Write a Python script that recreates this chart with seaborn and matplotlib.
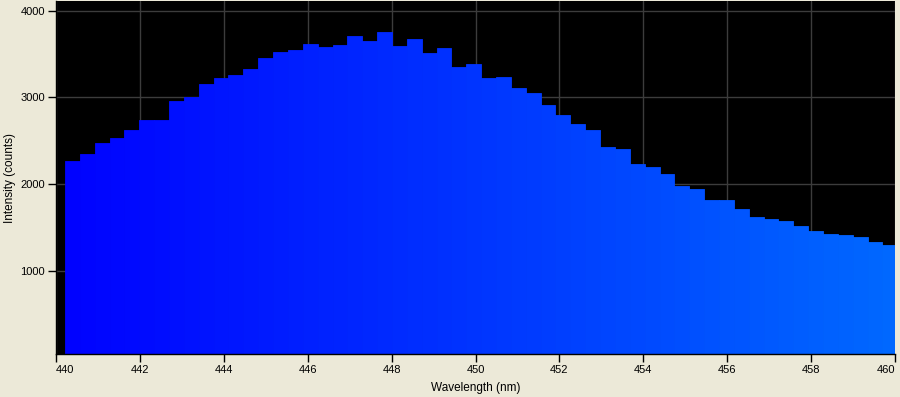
import matplotlib
matplotlib.use("Agg")
import matplotlib.pyplot as plt
import seaborn as sns
import pandas as pd
import numpy as np

wavelength_nm = [
    440.392, 440.746, 441.101, 441.455, 441.809, 442.164, 442.518, 442.872,
    443.226, 443.581, 443.935, 444.289, 444.644, 444.998, 445.352, 445.707,
    446.061, 446.415, 446.769, 447.124, 447.478, 447.832, 448.187, 448.541,
    448.895, 449.250, 449.604, 449.958, 450.312, 450.667, 451.021, 451.375,
    451.730, 452.084, 452.438, 452.793, 453.147, 453.501, 453.855, 454.210,
    454.564, 454.918, 455.273, 455.627, 455.981, 456.336, 456.690, 457.044,
    457.398, 457.753, 458.107, 458.461, 458.816, 459.170, 459.524, 459.879,
]
intensity_counts = [
    2265, 2346, 2473, 2534, 2623, 2742, 2742, 2957,
    3003, 3153, 3222, 3257, 3326, 3453, 3522, 3545,
    3615, 3580, 3603, 3707, 3649, 3753, 3592, 3672,
    3511, 3568, 3349, 3384, 3222, 3234, 3107, 3050,
    2911, 2796, 2692, 2623, 2427, 2404, 2231, 2196,
    2115, 1977, 1942, 1815, 1815, 1711, 1619, 1596,
    1573, 1515, 1458, 1423, 1411, 1388, 1330, 1296,
]
x_ticks = [440, 442, 444, 446, 448, 450, 452, 454, 456, 458, 460]
y_ticks = [1000, 2000, 3000, 4000]

df = pd.DataFrame({"Wavelength (nm)": wavelength_nm,
                   "Intensity (counts)": intensity_counts})

sns.set_style("dark")
plt.rcParams["font.family"] = ["Liberation Sans", "DejaVu Sans"]

bg = "#ECE9D8"
fig = plt.figure(figsize=(9.0, 3.97), dpi=100, facecolor=bg)
ax = fig.add_axes([56 / 900, 1 - 354 / 397, 839 / 900, 353 / 397])
ax.set_facecolor("black")

sns.barplot(data=df, x="Wavelength (nm)", y="Intensity (counts)",
            native_scale=True, width=1.0, color="#0000FF",
            linewidth=0, saturation=1.0, ax=ax, errorbar=None)

# horizontal blue gradient (pure blue -> lighter azure)
c0 = np.array([0.0, 0.0, 1.0])
c1 = np.array([0.0, 0.41, 1.0])
for p in ax.patches:
    xc = p.get_x() + p.get_width() / 2
    t = np.clip((xc - 440) / 20, 0, 1)
    col = c0 + (c1 - c0) * t
    p.set_facecolor(col)
    p.set_edgecolor(col)
    p.set_linewidth(0.6)
    p.set_zorder(2)

ax.set_xlim(440, 460)
ax.set_ylim(39, 4112)
ax.set_xticks(x_ticks)
ax.set_xticklabels([str(v) for v in x_ticks])
ax.set_yticks(y_ticks)
ax.set_yticklabels([str(v) for v in y_ticks])

ax.grid(True, color="#3c3c3c", linewidth=1.0, zorder=1)
ax.set_axisbelow(True)
for s in ["top", "right"]:
    ax.spines[s].set_visible(False)
for s in ["left", "bottom"]:
    ax.spines[s].set_visible(True)
    ax.spines[s].set_color("black")
    ax.spines[s].set_linewidth(1.0)

ax.tick_params(axis="both", which="both", direction="out", length=6,
               width=1, color="black", labelsize=8, labelcolor="black",
               pad=2, bottom=True, left=True)
xt_labels = ax.get_xticklabels()
xt_labels[0].set_horizontalalignment("left")
xt_labels[-1].set_horizontalalignment("right")

ax.set_xlabel("Wavelength (nm)", fontsize=8.5, color="black", labelpad=5)
ax.set_ylabel("Intensity (counts)", fontsize=8.5, color="black", labelpad=3)

fig.savefig("out.png", dpi=100, facecolor=bg)
